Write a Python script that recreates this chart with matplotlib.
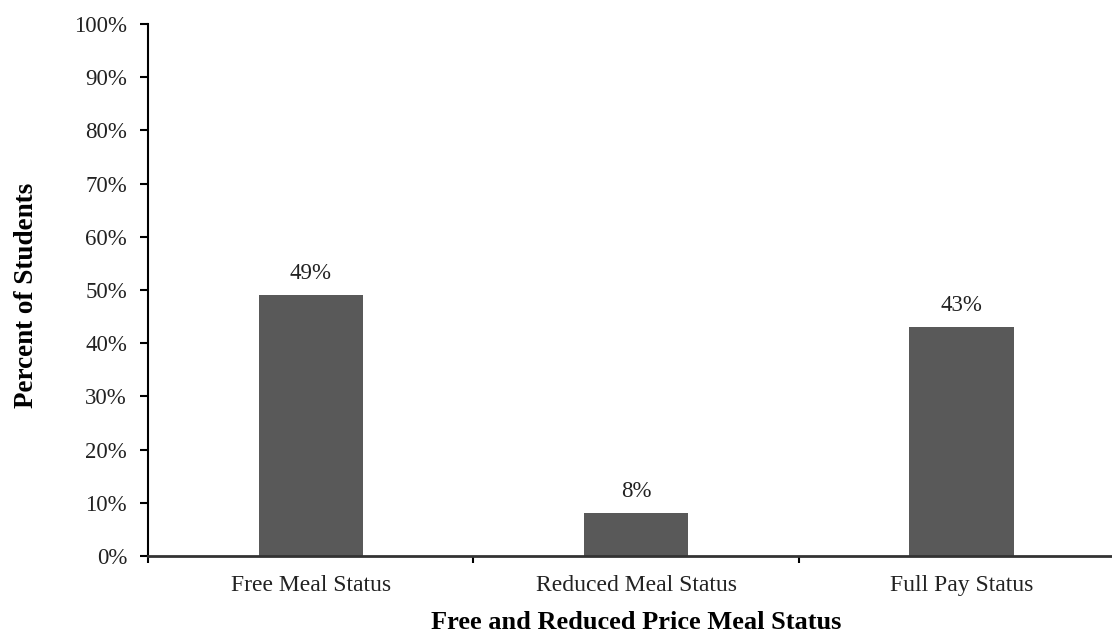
import numpy as np
import matplotlib.pyplot as plt
from matplotlib.ticker import FixedLocator, PercentFormatter

plt.rcParams['font.family'] = ['Liberation Serif', 'DejaVu Serif']

# data
categories = ['Free Meal Status', 'Reduced Meal Status', 'Full Pay Status']
percent = [49, 8, 43]
y_ticks = list(range(0, 101, 10))

fig = plt.figure(figsize=(11.12, 6.33), dpi=100)
ax = fig.add_axes([0.133, 0.1216, 0.878, 0.8404])

x = np.arange(len(categories))
bars = ax.bar(x, percent, width=0.32, color='#595959', edgecolor='none')

for xi, v in zip(x, percent):
    ax.text(xi, v + 2.2, f'{v}%', ha='center', va='bottom', fontsize=16.5, color='#222222')

ax.set_xlim(-0.5, len(categories) - 0.5)
ax.set_ylim(0, 100)
ax.set_yticks(y_ticks)
ax.yaxis.set_major_formatter(PercentFormatter(decimals=0))

# tick marks between categories, labels centred under bars
ax.set_xticks(x)
ax.set_xticklabels(categories)
ax.tick_params(axis='x', which='major', length=0, pad=14, labelsize=17, labelcolor='#222222')
ax.xaxis.set_minor_locator(FixedLocator(np.arange(-0.5, len(categories), 1.0)))
ax.tick_params(axis='x', which='minor', length=5, width=1.5, direction='out')
ax.tick_params(axis='y', length=6, width=1.5, direction='out', pad=9, labelsize=16.5, labelcolor='#222222')

for s in ['top', 'right']:
    ax.spines[s].set_visible(False)
ax.spines['left'].set_linewidth(1.5)
ax.spines['bottom'].set_linewidth(2)
ax.spines['bottom'].set_color('#333333')

ax.set_ylabel('Percent of Students', fontsize=19.5, fontweight='bold')
ax.yaxis.set_label_coords(-0.112, 0.49)
ax.set_xlabel('Free and Reduced Price Meal Status', fontsize=19, fontweight='bold', va='top')
ax.xaxis.set_label_coords(0.5, -0.103)

fig.savefig('out.png', dpi=100)
